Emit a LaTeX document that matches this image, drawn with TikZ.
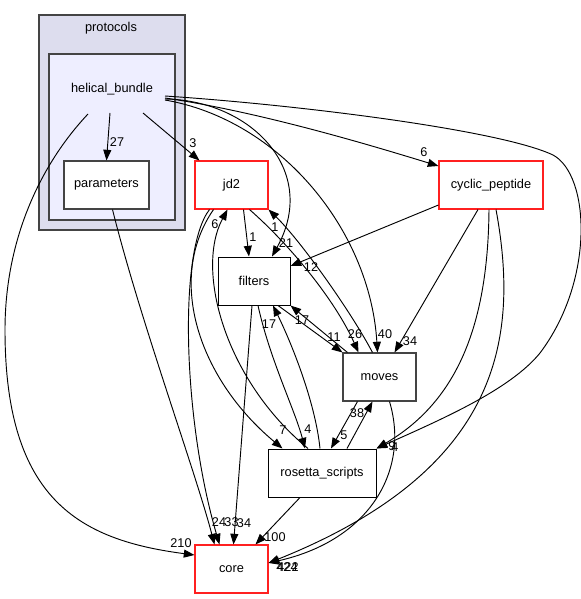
\documentclass[tikz,border=0pt]{standalone}
\usepackage{fontspec}
\setmainfont{Liberation Sans}
\usetikzlibrary{arrows.meta,calc}
\definecolor{clusterA}{HTML}{DDDDEE}
\definecolor{clusterB}{HTML}{EEEEFF}
\definecolor{bordergray}{HTML}{444444}
\definecolor{boxred}{HTML}{FF2020}
\tikzset{
  box/.style={draw=bordergray, fill=white, line width=0.8pt, minimum height=36pt, inner sep=0pt},
  redbox/.style={draw=boxred, fill=white, line width=0.8pt, minimum height=36pt, inner sep=0pt},
  blackbox/.style={draw=black, fill=white, line width=0.75pt, minimum height=36pt, inner sep=0pt},
  cluster/.style={draw=bordergray, line width=0.8pt, inner sep=0pt},
  e/.style={draw=black, line width=0.7pt, -{Triangle[length=8pt,width=6pt]}},
  lab/.style={font=\fontsize{9.5}{11}\selectfont, inner sep=0pt},
}
\begin{document}
\begin{tikzpicture}[x=0.75pt,y=-0.75pt,font=\fontsize{9.6}{11.5}\selectfont]
\useasboundingbox (0,0) rectangle (581,599);
% clusters
\node[cluster, fill=clusterA, minimum width=109.5pt, minimum height=161.25pt] (protocols) at (112,122.5) {};
\node[inner sep=0pt] (protocolslabel) at (111,28) {protocols};
\node[cluster, fill=clusterB, minimum width=94.5pt, minimum height=124.5pt] (hbbox) at (112,137) {};
\node[inner sep=0pt] (hb) at (112,89) {helical\_bundle};
% nodes
\node[box, minimum width=63.75pt] (parameters) at (106.5,185) {parameters};
\node[redbox, minimum width=54.75pt] (jd2) at (231.5,185) {jd2};
\node[redbox, minimum width=78pt] (cyclic) at (491,185) {cyclic\_peptide};
\node[blackbox, minimum width=54pt] (filters) at (254,281) {filters};
\node[box, minimum width=54.75pt] (moves) at (379.5,377) {moves};
\node[blackbox, minimum width=81pt] (rosetta) at (322,473) {rosetta\_scripts};
\node[redbox, minimum width=54.75pt] (core) at (231.5,569) {core};
% edges from helical_bundle
\draw[e] ($(hb)+(-2,24)$) -- (parameters.north);
\draw[e] ($(hb)+(31,24)$) -- ($(jd2.north west)+(5,0)$);
\draw[e] ($(hb)+(-24,25)$) .. controls (40,165) and (5,240) .. (5,330)
   .. controls (5,500) and (80,540) .. ($(core.west)+(0,-14)$);
\draw[e] ($(hb)+(53,10)$) .. controls (250,100) and (320,170) .. ($(filters.north)+(18,0)$);
\draw[e] ($(hb)+(53,11)$) .. controls (280,120) and (370,230) .. ($(moves.north)+(-2,0)$);
\draw[e] ($(hb)+(53,9)$) .. controls (260,112) and (370,145) .. ($(cyclic.west)+(0,-19)$);
\draw[e] ($(hb)+(53,7)$) .. controls (300,105) and (500,130) .. (553,155)
   .. controls (590,175) and (595,280) .. (540,353)
   .. controls (510,390) and (440,420) .. (rosetta.north east);
% edges from jd2
\draw[e] ($(jd2.south)+(12,0)$) -- ($(filters.north)+(-5,0)$);
\draw[e] ($(jd2.south)+(18,0)$) .. controls (290,245) and (335,300) .. ($(moves.north)+(-21,0)$);
\draw[e] ($(jd2.south)+(-18,0)$) .. controls (165,280) and (200,380) .. ($(rosetta.north west)+(15,0)$);
\draw[e] ($(jd2.south)+(-22,0)$) .. controls (178,250) and (183,420) .. ($(core.north)+(-12,0)$);
% edges from parameters
\draw[e] ($(parameters.south)+(6,0)$) .. controls (140,320) and (195,470) .. ($(core.north)+(-17,0)$);
% edges from filters
\draw[e] ($(filters.south)+(24,0)$) -- (moves.north west);
\draw[e] ($(filters.south)+(4,0)$) .. controls (270,360) and (295,410) .. ($(rosetta.north)+(-17,0)$);
\draw[e] ($(filters.south)+(-2,0)$) -- ($(core.north)+(2,0)$);
% edges from moves
\draw[e] ($(moves.north west)+(5,0)$) -- (filters.south east);
\draw[e] ($(moves.north)+(-7,0)$) .. controls (350,310) and (300,240) .. (jd2.south east);
\draw[e] ($(moves.south)+(-22,0)$) -- ($(rosetta.north)+(9,0)$);
\draw[e] ($(moves.south)+(10,0)$) .. controls (410,470) and (370,540) .. ($(core.east)+(0,-6)$);
% edges from rosetta_scripts
\draw[e] ($(rosetta.north)+(-14,0)$) .. controls (225,380) and (195,270) .. ($(jd2.south)+(-4,0)$);
\draw[e] ($(rosetta.north)+(-2,0)$) .. controls (315,400) and (290,340) .. ($(filters.south)+(19,0)$);
\draw[e] ($(rosetta.north)+(25,0)$) -- ($(moves.south)+(-7,0)$);
\draw[e] ($(rosetta.south)+(-22,0)$) -- ($(core.north)+(24,0)$);
% edges from cyclic_peptide
\draw[e] ($(cyclic.west)+(0,20)$) -- ($(filters.east)+(0,-15)$);
\draw[e] ($(cyclic.south)+(-13,0)$) -- ($(moves.north)+(15,0)$);
\draw[e] ($(cyclic.south)+(-2,0)$) .. controls (488,320) and (460,400) .. (rosetta.north east);
\draw[e] ($(cyclic.south)+(5,0)$) .. controls (520,340) and (500,470) .. ($(core.east)+(0,-6)$);
% labels
\node[lab] (l27) at (117,142) {27};
\node[lab] (l3) at (193,143) {3};
\node[lab] (l210) at (181,543) {210};
\node[lab] (l21) at (286,243) {21};
\node[lab] (l1a) at (253,237) {1};
\node[lab] (l1b) at (275,227) {1};
\node[lab] (l6a) at (215,224) {6};
\node[lab] (l12) at (311,267) {12};
\node[lab] (l17a) at (302,320) {17};
\node[lab] (l17b) at (269,324) {17};
\node[lab] (l11) at (334,337) {11};
\node[lab] (l26) at (355,334) {26};
\node[lab] (l40) at (385,334) {40};
\node[lab] (l34a) at (410,341) {34};
\node[lab] (l6b) at (424,152) {6};
\node[lab] (l7) at (283,430) {7};
\node[lab] (l4a) at (308,429) {4};
\node[lab] (l5) at (344,435) {5};
\node[lab] (l38) at (357,413) {38};
\node[lab] (l9) at (392,446) {9};
\node[lab] (l4b) at (395,447) {4};
\node[lab] (l24) at (219,522) {24};
\node[lab] (l33) at (231.5,522) {33};
\node[lab] (l34b) at (244,523) {34};
\node[lab] (l100) at (275,537) {100};
\node[lab] (l424) at (287,567) {424};
\node[lab] (l422) at (288,567) {422};
\end{tikzpicture}
\end{document}
